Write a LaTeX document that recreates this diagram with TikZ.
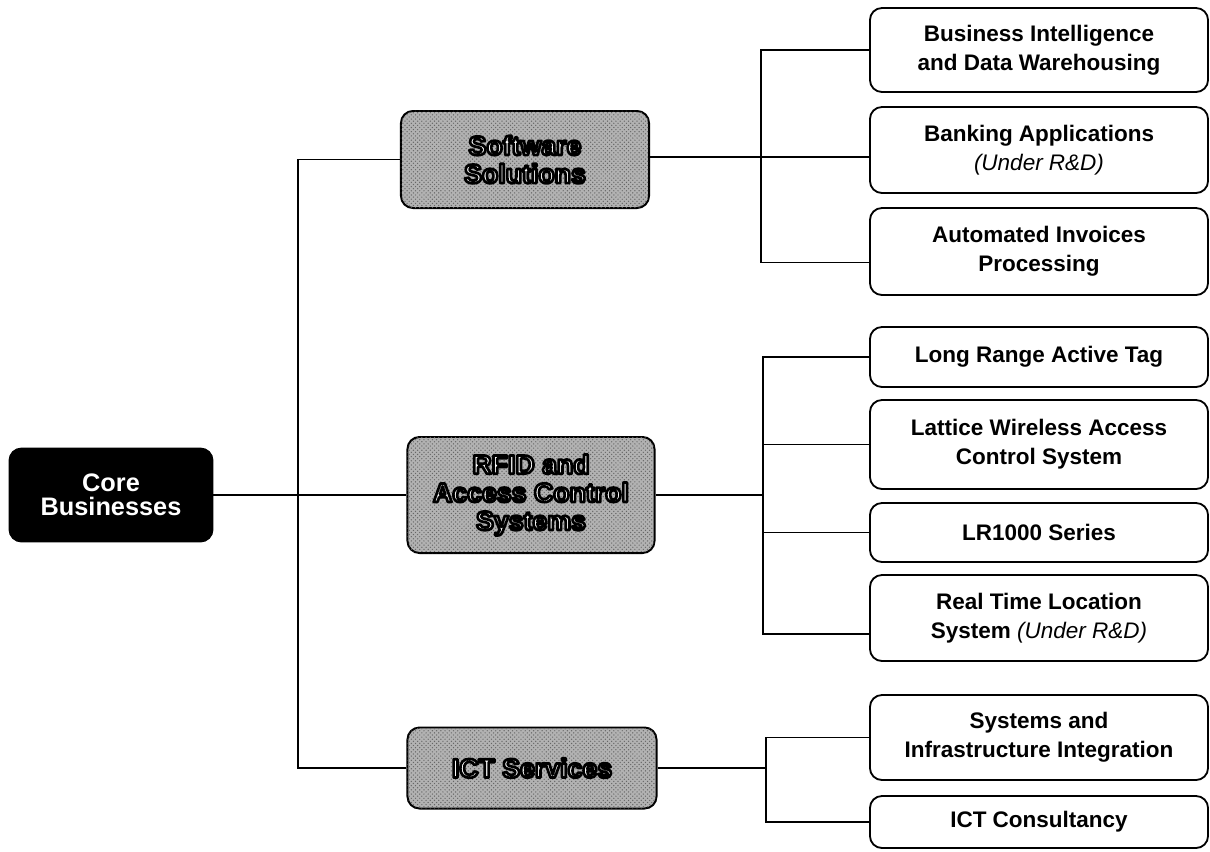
\documentclass[tikz,border=0pt]{standalone}
\usepackage{fontspec}
\setmainfont{Liberation Sans}
\usetikzlibrary{patterns}
% white letters with a black outline (fill and stroke text mode)
\newcommand{\outl}[1]{\special{pdf:literal direct 0 0 0 RG 1.9 w 1 j 2 Tr}#1\special{pdf:literal direct 0 Tr}}

\begin{document}
\begin{tikzpicture}[x=0.025cm, y=-0.025cm,
    link/.style={line width=1.3pt},
    leafbox/.style={draw, line width=1.3pt, rounded corners=0.3cm, minimum width=8.45cm,
        align=center, inner sep=1pt, font=\fontsize{16}{20.5}\selectfont\bfseries},
    midbox/.style={draw, line width=1.4pt, rounded corners=0.3cm, fill=gray!60,
        postaction={pattern=crosshatch dots, pattern color=black!60}, align=center,
        text=white, inner sep=1pt, font=\fontsize{19}{20}\selectfont\bfseries},
    rootbox/.style={draw, line width=1.3pt, rounded corners=0.3cm, fill=black, text=white,
        align=center, minimum width=5.075cm, minimum height=2.325cm,
        font=\fontsize{18}{17}\selectfont\bfseries}]
    \useasboundingbox (0,0) rectangle (1210,851);

    % root and the three branches
    \node[rootbox] (core) at (111,495) {Core\\Businesses};
    \node[midbox, minimum width=6.2cm, minimum height=2.425cm] (sw) at (525,159.5) {\outl{Software}\\\outl{Solutions}};
    \node[midbox, minimum width=6.175cm, minimum height=2.9cm] (rfid) at (531,495) {\outl{RFID and}\\\outl{Access Control}\\\outl{Systems}};
    \node[midbox, minimum width=6.225cm, minimum height=2.025cm] (ict) at (532,768) {\outl{ICT Services}};

    % leaves
    \node[leafbox, minimum height=2.1cm]   (bi)   at (1039,50)    {Business Intelligence\\and Data Warehousing};
    \node[leafbox, minimum height=2.15cm]  (bank) at (1039,150)   {Banking Applications\\{\mdseries\itshape (Under R\&D)}};
    \node[leafbox, minimum height=2.175cm] (auto) at (1039,251.5) {Automated Invoices\\Processing};
    \node[leafbox, minimum height=1.5cm]   (lrat) at (1039,357)   {Long Range Active Tag};
    \node[leafbox, minimum height=2.225cm] (lwac) at (1039,444.5) {Lattice Wireless Access\\Control System};
    \node[leafbox, minimum height=1.475cm] (lr1k) at (1039,532.5) {LR1000 Series};
    \node[leafbox, minimum height=2.15cm]  (rtls) at (1039,618)   {Real Time Location\\System {\mdseries\itshape (Under R\&D)}};
    \node[leafbox, minimum height=2.125cm] (sii)  at (1039,737.5) {Systems and\\Infrastructure Integration};
    \node[leafbox, minimum height=1.3cm]   (ictc) at (1039,822)   {ICT Consultancy};

    % junctions
    \coordinate (trunk) at (298,495);
    \coordinate (swj) at (761,157);
    \coordinate (rfj) at (763,495);
    \coordinate (ictj) at (766,768);

    \draw[link] (core.east) -- (trunk) -- (rfid.west);
    \draw[link] (sw.west) -| (trunk) |- (ict.west);

    \draw[link] (sw.east |- swj) -- (swj -| bank.west);
    \draw[link] (bi.west) -| (swj) |- ([yshift=-0.275cm]auto.west);

    \draw[link] (rfid.east) -- (rfj);
    \draw[link] (lrat.west) -| (rfj) |- ([yshift=-0.4cm]rtls.west);
    \draw[link] (lwac.west) -- (lwac.west -| rfj);
    \draw[link] (lr1k.west) -- (lr1k.west -| rfj);

    \draw[link] (ict.east) -- (ictj);
    \draw[link] (sii.west) -| (ictj) |- (ictc.west);
\end{tikzpicture}
\end{document}
